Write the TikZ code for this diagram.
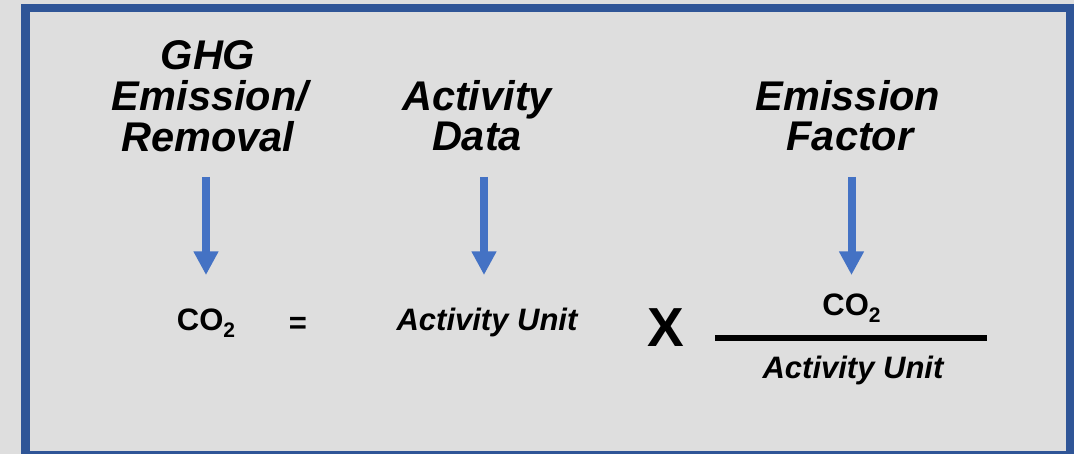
\documentclass[tikz,border=0pt]{standalone}
\usepackage{fontspec}
\setmainfont{Liberation Sans}
\usetikzlibrary{arrows.meta}
\definecolor{bgc}{HTML}{DEDEDE}
\definecolor{framec}{HTML}{2F5597}
\definecolor{arrc}{HTML}{4472C4}
\tikzset{
  head/.style={font=\fontsize{41.5}{41.5}\selectfont\bfseries\itshape, inner sep=0pt, anchor=base},
  term/.style={font=\fontsize{31}{31}\selectfont\bfseries\itshape, inner sep=0pt, anchor=base},
  chem/.style={font=\fontsize{31}{31}\selectfont\bfseries, inner sep=0pt, anchor=base},
  arr/.style={draw=arrc, line width=8pt, -{Triangle[width=23.5pt,length=23.5pt]}},
}
\newcommand{\cotwo}{CO\raisebox{-7pt}{\fontsize{21}{21}\selectfont 2}}
\begin{document}
\begin{tikzpicture}[x=1pt,y=-1pt]
\useasboundingbox (0,0) rectangle (1074,454);
\fill[bgc] (0,0) rectangle (1074,454);
\begin{scope}
\clip (0,0) rectangle (1074,454);
\draw[framec, line width=8.5pt] (25.5,8) rectangle (1070,455.5);
\end{scope}
% headings
\node[head] (ghg1) at (208,70) {GHG};
\node[head] (ghg2) at (210,111) {Emission/};
\node[head] (ghg3) at (208,152) {Removal};
\node[head] (ad1) at (477,111) {Activity};
\node[head] (ad2) at (477,151) {Data};
\node[head] (ef1) at (848,111) {Emission};
\node[head] (ef2) at (850,151) {Factor};
% arrows
\coordinate (a1s) at (206,177);
\coordinate (a1e) at (206,275);
\coordinate (a2s) at (484,177);
\coordinate (a2e) at (484,275);
\coordinate (a3s) at (851.5,177);
\coordinate (a3e) at (851.5,275);
\draw[arr] (a1s) -- (a1e);
\draw[arr] (a2s) -- (a2e);
\draw[arr] (a3s) -- (a3e);
% equation
\node[chem] (lhs) at (206,331) {\cotwo};
\node[chem, anchor=center] (eq) at (298,325) {=};
\node[term] (au) at (487,331) {Activity Unit};
\node[inner sep=0pt, anchor=base, font=\fontsize{55}{55}\selectfont\bfseries] (times) at (666,347) {X};
\node[chem] (num) at (851.5,316) {\cotwo};
\node[term] (den) at (853,378) {Activity Unit};
\coordinate (fl) at (715,338);
\coordinate (fr) at (987,338);
\draw[black, line width=6.5pt] (fl) -- (fr);
\end{tikzpicture}
\end{document}
